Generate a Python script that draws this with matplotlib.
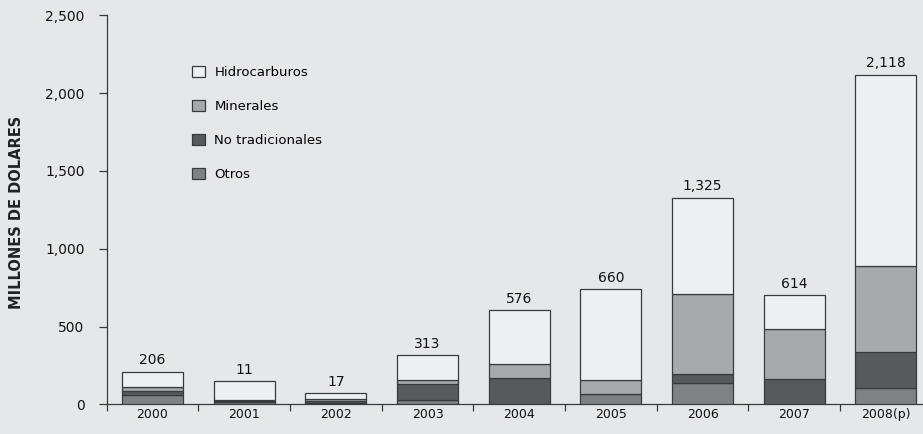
import matplotlib
matplotlib.use("Agg")
import matplotlib.pyplot as plt
import numpy as np
from matplotlib.patches import Patch

years = ["2000", "2001", "2002", "2003", "2004", "2005", "2006", "2007", "2008(p)"]
otros = [58, 12, 8, 26, 0, 64, 135, 0, 105]
no_tradicionales = [29, 8, 13, 106, 169, 0, 60, 161, 229]
minerales = [24, 8, 13, 22, 88, 90, 514, 321, 553]
hidrocarburos = [99, 122, 39, 161, 347, 587, 619, 221, 1232]
value_labels = ["206", "11", "17", "313", "576", "660", "1,325", "614", "2,118"]

series = [
    ("Otros", otros, "#808184"),
    ("No tradicionales", no_tradicionales, "#58595b"),
    ("Minerales", minerales, "#a8a9ad"),
    ("Hidrocarburos", hidrocarburos, "#eeeff1"),
]

bg = "#e6e7e9"
edge = "#3a3a3c"
plt.rcParams["font.family"] = ["DejaVu Sans"]

fig = plt.figure(figsize=(9.23, 4.34), dpi=100, facecolor=bg)
ax = fig.add_axes([106.7 / 923, 29.7 / 434, 825 / 923, 389 / 434], facecolor=bg)

x = np.arange(len(years))
bottom = np.zeros(len(years))
for name, vals, col in series:
    v = np.array(vals, dtype=float)
    ax.bar(x, v, bottom=bottom, width=0.665, color=col, edgecolor=edge, linewidth=0.9, zorder=3)
    bottom += v

for xi, top, lab in zip(x, bottom, value_labels):
    ax.annotate(lab, (xi, top), xytext=(0, 3), textcoords="offset points",
                ha="center", va="bottom", fontsize=10, color="#111111")

ax.set_xlim(-0.5, len(years) - 0.5)
ax.set_ylim(0, 2500)
ax.set_yticks(np.arange(0, 2501, 500))
ax.set_yticklabels([f"{v:,}" for v in range(0, 2501, 500)], fontsize=10, color="#111111")
ax.set_xticks(x)
ax.set_xticklabels(years, fontsize=9, color="#111111")
ax.tick_params(axis="x", which="major", length=0, pad=3)
ax.set_xticks(np.arange(-0.5, len(years)), minor=True)
ax.tick_params(axis="x", which="minor", length=5, width=0.9, color=edge, direction="out")
ax.tick_params(axis="y", length=6, width=0.9, color=edge, direction="out", pad=10)

for s in ["top", "right"]:
    ax.spines[s].set_visible(False)
for s in ["left", "bottom"]:
    ax.spines[s].set_color(edge)
    ax.spines[s].set_linewidth(0.9)

fig.text(17 / 923, 1 - 212 / 434, "MILLONES DE DOLARES", rotation=90, ha="center", va="center",
         fontsize=10.5, fontweight="bold", color="#222222")

handles = [Patch(facecolor=col, edgecolor=edge, linewidth=0.9, label=name)
           for name, _, col in reversed(series)]
leg = ax.legend(handles=handles, loc="upper left", bbox_to_anchor=(80 / 825, 1 - 45 / 389),
                frameon=False, fontsize=9.5, labelspacing=1.6, handlelength=1.0, handleheight=0.9,
                handletextpad=0.7, borderaxespad=0)

fig.savefig("out.png", dpi=100, facecolor=bg)
